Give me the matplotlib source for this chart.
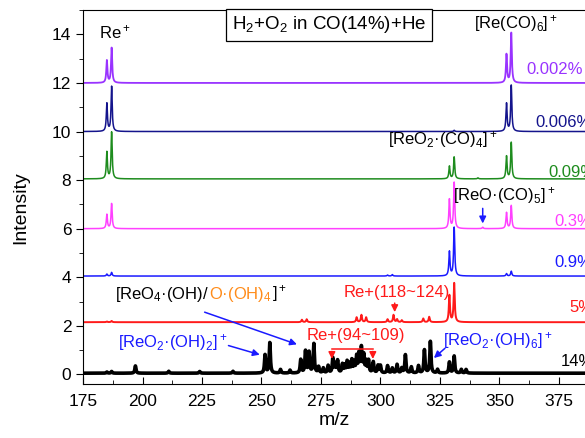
import matplotlib
matplotlib.use("Agg")
import matplotlib.pyplot as plt
from matplotlib.ticker import MultipleLocator
import numpy as np

plt.rcParams["font.family"] = ["Liberation Sans", "DejaVu Sans"]
plt.rcParams["mathtext.fontset"] = "custom"
plt.rcParams["mathtext.rm"] = "Liberation Sans"
plt.rcParams["mathtext.it"] = "Liberation Sans:italic"
plt.rcParams["mathtext.bf"] = "Liberation Sans:bold"

# --- Data: peak lists per trace (m/z, height above baseline) ---
labels = ["14%", "5%", "0.9%", "0.3%", "0.09%", "0.006%", "0.002%"]
offsets = [0.05, 2.15, 4.05, 6.0, 8.05, 10.0, 12.0]
colors = ["#000000", "#ff1a1a", "#1a1aff", "#ff40ff", "#1e8c1e", "#14148c", "#9933ff"]

black_mz = [185, 187, 197, 211, 224, 238, 251.5, 253.5, 258, 262, 266.5, 268.5, 270, 272,
            274, 276, 278, 280, 281, 282, 284, 285, 286, 287, 288, 289, 290, 291, 292,
            293, 294, 295, 297, 299, 300, 303, 305, 307, 309, 310.5, 313, 316, 318.5,
            321, 324, 329, 331, 334, 336]
black_h = [0.05, 0.07, 0.3, 0.08, 0.07, 0.08, 0.75, 1.25, 0.15, 0.12, 0.55, 0.9, 0.85, 1.2,
           0.25, 0.2, 0.3, 0.6, 0.35, 0.5, 0.35, 0.3, 0.45, 0.35, 0.5, 0.4, 0.65, 0.75, 1.0,
           0.7, 0.45, 0.5, 0.45, 0.3, 0.3, 0.3, 0.2, 0.35, 0.2, 0.75, 0.25, 0.3, 0.95,
           1.3, 0.15, 0.45, 0.7, 0.15, 0.15]
red_mz = [185, 187, 267, 269, 290, 292, 294, 303, 305.5, 307, 309, 318, 320.5, 329, 331]
red_h = [0.03, 0.05, 0.1, 0.12, 0.2, 0.3, 0.2, 0.12, 0.3, 0.12, 0.08, 0.15, 0.22, 1.1, 1.6]
blue_mz = [185, 187, 303, 305, 329, 331, 353, 355]
blue_h = [0.08, 0.15, 0.04, 0.06, 1.0, 2.0, 0.1, 0.2]
magenta_mz = [185, 187, 329, 331, 343, 353, 355]
magenta_h = [0.58, 1.03, 1.2, 1.9, 0.06, 0.66, 0.95]
green_mz = [185, 187, 329, 331, 341, 353, 355]
green_h = [1.1, 1.92, 0.52, 0.9, 0.04, 0.93, 1.5]
navy_mz = [185, 187, 331, 353, 355]
navy_h = [1.15, 1.85, 0.05, 1.15, 1.9]
purple_mz = [185, 187, 353, 355]
purple_h = [0.92, 1.44, 1.17, 2.06]

peak_mz = [black_mz, red_mz, blue_mz, magenta_mz, green_mz, navy_mz, purple_mz]
peak_h = [black_h, red_h, blue_h, magenta_h, green_h, navy_h, purple_h]

mz = np.linspace(175, 390, 6000)


def spectrum(centers, heights, gamma=0.28):
    y = np.zeros_like(mz)
    for c, h in zip(centers, heights):
        y += h * gamma**2 / ((mz - c) ** 2 + gamma**2)
    return y


# --- Plot ---
fig = plt.figure(figsize=(5.85, 4.38), dpi=100)
ax = fig.add_axes([0.142, 0.123, 0.858, 0.854])

line_widths = [2.6, 1.4, 1.1, 1.1, 1.1, 1.1, 1.3]
for i in range(len(labels)):
    ax.plot(mz, offsets[i] + spectrum(peak_mz[i], peak_h[i]), color=colors[i],
            lw=line_widths[i])

ax.set_xlim(175, 386)
ax.set_ylim(-0.4, 15)
ax.xaxis.set_major_locator(MultipleLocator(25))
ax.xaxis.set_minor_locator(MultipleLocator(12.5))
ax.yaxis.set_major_locator(MultipleLocator(2))
ax.yaxis.set_minor_locator(MultipleLocator(1))
ax.tick_params(axis="x", which="both", direction="in", labelsize=12.5, pad=7)
ax.tick_params(axis="y", which="both", direction="out", labelsize=12.5)
ax.tick_params(which="major", length=5)
ax.tick_params(which="minor", length=3)
ax.spines["right"].set_visible(False)

fig.text(0.035, 0.525, "Intensity", rotation=90, ha="center", va="center", fontsize=14)
fig.text(0.571, 0.04, "m/z", ha="center", va="center", fontsize=14)

# --- Trace labels (cut at the right edge, as in the original) ---
label_pos = [(376, 0.55), (379.6, 2.75), (373.3, 4.6), (373.3, 6.3), (370.8, 8.3),
             (365.3, 10.37), (361.5, 12.55)]
for i, (lx, ly) in enumerate(label_pos):
    ax.text(lx, ly, labels[i], color=colors[i], fontsize=12, ha="left", va="center")

# --- Annotations ---
ax.text(278.4, 14.4, "H$_2$+O$_2$ in CO(14%)+He", fontsize=13.5, ha="center", va="center",
        bbox=dict(boxstyle="square,pad=0.3", fc="white", ec="black", lw=0.9))
ax.text(188.4, 14.1, "Re$^+$", fontsize=12, ha="center", va="center")
ax.text(357, 14.45, "[Re(CO)$_6$]$^+$", fontsize=12, ha="center", va="center")
ax.text(326.3, 9.67, "[ReO$_2$·(CO)$_4$]$^+$", fontsize=12, ha="center", va="center")
ax.text(352, 7.37, "[ReO·(CO)$_5$]$^+$", fontsize=12, ha="center", va="center")
ax.annotate("", xy=(343, 6.1), xytext=(343, 6.95),
            arrowprops=dict(arrowstyle="-|>", color="#1a1aff", lw=1.1, mutation_scale=10))

t1 = ax.text(188.4, 3.12, "[ReO$_4$·(OH)/", fontsize=12, ha="left", va="baseline")
t2 = ax.annotate("O·(OH)$_4$", xy=(1, 3.12), xycoords=(t1, "data"), fontsize=12,
                 color="#ff8c1a", ha="left", va="baseline")
ax.annotate("]$^+$", xy=(1, 3.12), xycoords=(t2, "data"), fontsize=12,
            ha="left", va="baseline")
ax.annotate("", xy=(266, 1.2), xytext=(225, 2.6),
            arrowprops=dict(arrowstyle="-|>", color="#1a1aff", lw=1.1, mutation_scale=10))

ax.text(212.8, 1.3, "[ReO$_2$·(OH)$_2$]$^+$", fontsize=12, color="#1a1aff",
        ha="center", va="center")
ax.annotate("", xy=(250.4, 0.78), xytext=(235, 1.22),
            arrowprops=dict(arrowstyle="-|>", color="#1a1aff", lw=1.1, mutation_scale=10))

ax.text(349.4, 1.4, "[ReO$_2$·(OH)$_6$]$^+$", fontsize=12, color="#1a1aff",
        ha="center", va="center")
ax.annotate("", xy=(321.6, 0.6), xytext=(328, 1.15),
            arrowprops=dict(arrowstyle="-|>", color="#1a1aff", lw=1.1, mutation_scale=10))

ax.text(269, 1.6, "Re+(94~109)", fontsize=12, color="#ff1a1a", ha="left", va="center")
ax.plot([279.6, 296.8], [1.05, 1.05], color="#ff1a1a", lw=1.1)
for bx in (279.6, 296.8):
    ax.annotate("", xy=(bx, 0.52), xytext=(bx, 1.06),
                arrowprops=dict(arrowstyle="-|>", color="#ff1a1a", lw=1.1, mutation_scale=10))

ax.text(284.7, 3.37, "Re+(118~124)", fontsize=12, color="#ff1a1a", ha="left", va="center")
ax.annotate("", xy=(306, 2.45), xytext=(306, 3.05),
            arrowprops=dict(arrowstyle="-|>", color="#ff1a1a", lw=1.1, mutation_scale=10))

fig.savefig("out.png", dpi=100)
